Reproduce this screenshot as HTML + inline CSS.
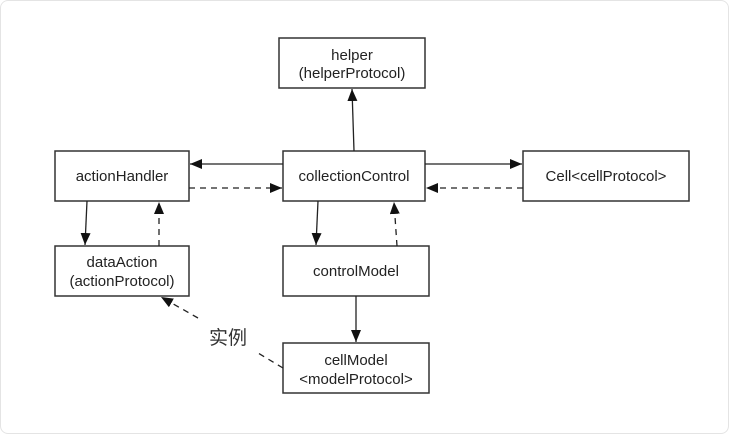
<!DOCTYPE html>
<html><head><meta charset="utf-8"><style>
html,body{margin:0;padding:0;background:#fff;}
.f{position:absolute;left:0;top:0;width:727px;height:432px;border:1px solid #e4e4e4;border-radius:8px;}
</style></head><body>
<div class="f"></div>
<svg width="729" height="434" style="position:absolute;left:0;top:0" font-family="Liberation Sans, Noto Sans CJK SC, sans-serif" font-size="15" fill="#222">
<defs>
<marker id="a" viewBox="0 0 12 10" refX="12" refY="5" markerWidth="12" markerHeight="10" orient="auto-start-reverse" markerUnits="userSpaceOnUse"><path d="M0,0L12,5L0,10z" fill="#111"/></marker>
</defs>
<g fill="#fff" stroke="#333" stroke-width="1.5">
<rect x="279" y="38" width="146" height="50"/>
<rect x="55" y="151" width="134" height="50"/>
<rect x="283" y="151" width="142" height="50"/>
<rect x="523" y="151" width="166" height="50"/>
<rect x="55" y="246" width="134" height="50"/>
<rect x="283" y="246" width="146" height="50"/>
<rect x="283" y="343" width="146" height="50"/>
</g>
<g stroke="#222" stroke-width="1.3" fill="none">
<line x1="354" y1="151" x2="352" y2="89" marker-end="url(#a)"/>
<line x1="283" y1="164" x2="190" y2="164" marker-end="url(#a)"/>
<line x1="425" y1="164" x2="522" y2="164" marker-end="url(#a)"/>
<line x1="87" y1="201" x2="85" y2="245" marker-end="url(#a)"/>
<line x1="318" y1="201" x2="316" y2="245" marker-end="url(#a)"/>
<line x1="356" y1="296" x2="356" y2="342" marker-end="url(#a)"/>
<g stroke-dasharray="6,5">
<line x1="189" y1="188" x2="282" y2="188" marker-end="url(#a)"/>
<line x1="523" y1="188" x2="426" y2="188" marker-end="url(#a)"/>
<line x1="159" y1="246" x2="159" y2="202" marker-end="url(#a)"/>
<line x1="397" y1="246" x2="394" y2="202" marker-end="url(#a)"/>
<line x1="198" y1="318" x2="161" y2="297" marker-end="url(#a)"/>
<line x1="283" y1="368" x2="258" y2="353"/>
</g>
</g>
<g text-anchor="middle">
<text x="352" y="60">helper</text>
<text x="352" y="78">(helperProtocol)</text>
<text x="122" y="181">actionHandler</text>
<text x="354" y="181">collectionControl</text>
<text x="606" y="181">Cell&lt;cellProtocol&gt;</text>
<text x="122" y="267">dataAction</text>
<text x="122" y="286">(actionProtocol)</text>
<text x="356" y="276">controlModel</text>
<text x="356" y="365">cellModel</text>
<text x="356" y="384">&lt;modelProtocol&gt;</text>
<text x="228" y="344" font-size="19" fill="#333">实例</text>
</g>
</svg>
</body></html>
